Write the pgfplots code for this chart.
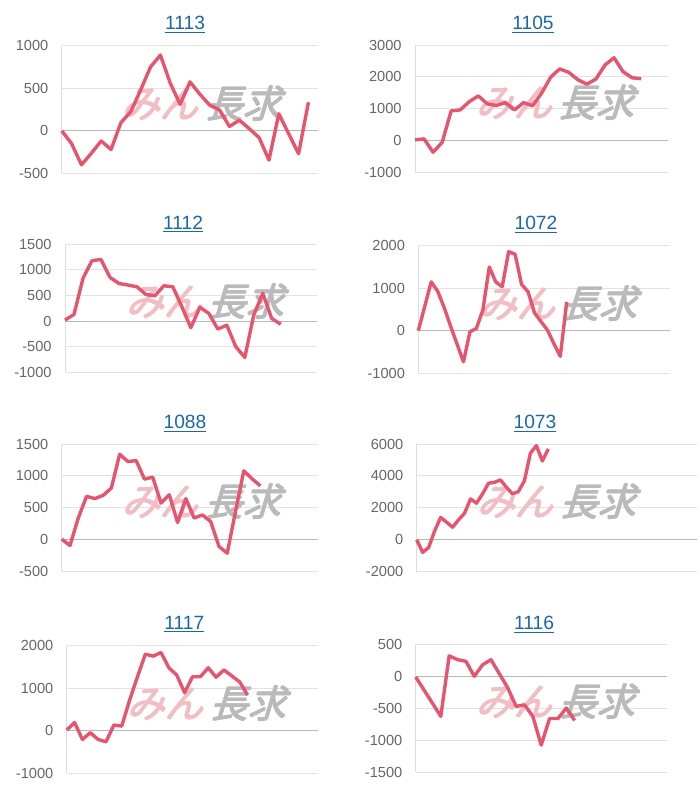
\documentclass[border=0pt]{standalone}
\usepackage{fontspec}
\setmainfont{Liberation Sans}
\newfontfamily\jp[FakeSlant=0.3]{Noto Sans CJK JP}
\usepackage{pgfplots}
\pgfplotsset{compat=1.18}

\definecolor{lineRed}{RGB}{230,84,110}
\definecolor{tickGray}{RGB}{102,102,102}
\definecolor{titleBlue}{RGB}{26,104,170}
\definecolor{wmPink}{RGB}{241,190,196}
\definecolor{wmGray}{RGB}{186,186,186}

\pgfplotsset{
  panel/.style={
    scale only axis, anchor=north west,
    xmin=0, enlargelimits=false,
    axis lines*=left,
    x axis line style={draw=none},
    y axis line style={draw=black!13},
    xtick=\empty,
    ymajorgrids, grid style={black!11, line width=0.5pt},
    major tick length=0pt,
    scaled y ticks=false,
    yticklabel style={font=\fontsize{7.3}{8}\selectfont, text=tickGray,
      anchor=east, inner sep=0pt, xshift=-6.5pt},
    /pgf/number format/assume math mode=true,
    /pgf/number format/1000 sep={},
    extra y ticks={0}, extra y tick labels={},
    extra y tick style={grid style={black!28, line width=0.6pt}},
    clip=false,
  },
  series/.style={lineRed, line width=1.7pt, line join=round, mark=none},
}
% watermark: a few shifted copies stand in for a heavy weight
\newcommand{\wmtext}{\jp\fontsize{19}{19}\selectfont\textcolor{wmPink}{みん}\,\textcolor{wmGray}{長求}}
\newcommand{\wm}{%
  \node[inner sep=0pt] at (rel axis cs:0,0.545) [xshift=69.6pt] {\wmtext};
  \node[inner sep=0pt] at (rel axis cs:0,0.545) [xshift=70.1pt] {\wmtext};
  \node[inner sep=0pt] at (rel axis cs:0,0.545) [xshift=69.6pt, yshift=0.45pt] {\wmtext};
  \node[inner sep=0pt] at (rel axis cs:0,0.545) [xshift=70.1pt, yshift=0.45pt] {\wmtext};}
\newcommand{\ttl}[3]{\node[anchor=base, text=titleBlue, font=\fontsize{9.6}{11}\selectfont]
  at (#1pt,#2pt) {\underline{#3}};}

\begin{document}
\begin{tikzpicture}
\path[use as bounding box] (0pt,0pt) rectangle (350pt,-400pt);

% row 1
\begin{axis}[panel, at={(30.85pt,-22.85pt)}, width=128.3pt, height=63.8pt,
  xmax=26, ymin=-500, ymax=1000, ytick={-500,0,500,1000}]
\wm
\addplot[series] coordinates {(0,0) (1,-150) (2,-400) (3,-265) (4,-120) (5,-220)
  (6,95) (7,225) (8,480) (9,750) (10,890) (11,560) (12,310) (13,575) (14,430)
  (15,300) (16,245) (17,50) (18,125) (19,25) (20,-80) (21,-345) (22,200)
  (23,-35) (24,-270) (25,335)};
\end{axis}

\begin{axis}[panel, at={(207.5pt,-22.5pt)}, width=126.65pt, height=63.65pt,
  xmax=28, ymin=-1000, ymax=3000, ytick={-1000,0,1000,2000,3000}]
\wm
\addplot[series] coordinates {(0,20) (1,50) (2,-370) (3,-60) (4,930) (5,960)
  (6,1220) (7,1400) (8,1150) (9,1100) (10,1190) (11,960) (12,1190) (13,1090)
  (14,1490) (15,1990) (16,2250) (17,2140) (18,1910) (19,1770) (20,1930)
  (21,2370) (22,2600) (23,2160) (24,1970) (25,1940)};
\end{axis}

% row 2
\begin{axis}[panel, at={(32.5pt,-122.15pt)}, width=125.85pt, height=64pt,
  xmax=28, ymin=-1000, ymax=1500, ytick={-1000,-500,0,500,1000,1500}]
\wm
\addplot[series] coordinates {(0,20) (1,130) (2,835) (3,1180) (4,1205) (5,855)
  (6,735) (7,705) (8,670) (9,520) (10,495) (11,690) (12,670) (13,280) (14,-130)
  (15,270) (16,150) (17,-155) (18,-80) (19,-500) (20,-710) (21,120) (22,540)
  (23,50) (24,-60)};
\end{axis}

\begin{axis}[panel, at={(209.15pt,-122.85pt)}, width=125.85pt, height=63.8pt,
  xmax=39, ymin=-1000, ymax=2000, ytick={-1000,0,1000,2000}]
\wm
\addplot[series] coordinates {(0,0) (1,575) (2,1150) (3,930) (4,550) (5,110)
  (6,-310) (7,-730) (8,-25) (9,55) (10,485) (11,1500) (12,1150) (13,1035)
  (14,1860) (15,1800) (16,1090) (17,920) (18,425) (19,220) (20,20) (21,-300)
  (22,-600) (23,680)};
\end{axis}

% row 3
\begin{axis}[panel, at={(30.85pt,-222pt)}, width=128.3pt, height=63.85pt,
  xmax=31, ymin=-500, ymax=1500, ytick={-500,0,500,1000,1500}]
\wm
\addplot[series] coordinates {(0,10) (1,-90) (2,340) (3,680) (4,645) (5,695)
  (6,810) (7,1340) (8,1225) (9,1240) (10,950) (11,980) (12,575) (13,705)
  (14,270) (15,645) (16,340) (17,390) (18,285) (19,-105) (20,-210) (21,445)
  (22,1080) (23,955) (24,845)};
\end{axis}

\begin{axis}[panel, at={(208.35pt,-222pt)}, width=140pt, height=63.85pt,
  xmax=46.8, ymin=-2000, ymax=6000, ytick={-2000,0,2000,4000,6000}]
\wm
\addplot[series] coordinates {(0,0) (1,-790) (2,-480) (3,560) (4,1400) (5,1100)
  (6,790) (7,1250) (8,1670) (9,2560) (10,2290) (11,2875) (12,3540) (13,3600)
  (14,3750) (15,3290) (16,2875) (17,3020) (18,3690) (19,5420) (20,5900)
  (21,4940) (22,5690)};
\end{axis}

% row 4
\begin{axis}[panel, at={(33.35pt,-322.85pt)}, width=125.8pt, height=63.8pt,
  xmax=32, ymin=-1000, ymax=2000, ytick={-1000,0,1000,2000}]
\wm
\addplot[series] coordinates {(0,15) (1,195) (2,-205) (3,-45) (4,-205) (5,-260)
  (6,135) (7,110) (8,720) (9,1270) (10,1800) (11,1755) (12,1840) (13,1480)
  (14,1310) (15,895) (16,1270) (17,1270) (18,1480) (19,1260) (20,1430)
  (21,1290) (22,1150) (23,840)};
\end{axis}

\begin{axis}[panel, at={(207.85pt,-322.15pt)}, width=125.5pt, height=64pt,
  xmax=30, ymin=-1500, ymax=500, ytick={-1500,-1000,-500,0,500}]
\wm
\addplot[series] coordinates {(0,-10) (1,-215) (2,-420) (3,-625) (4,320) (5,260)
  (6,235) (7,0) (8,180) (9,260) (10,40) (11,-180) (12,-470) (13,-445) (14,-625)
  (15,-1075) (16,-660) (17,-660) (18,-495) (19,-690)};
\end{axis}

% titles
\ttl{92.5}{-14.5}{1113}
\ttl{266.5}{-14.5}{1105}
\ttl{91.5}{-114.5}{1112}
\ttl{268}{-114.5}{1072}
\ttl{92.5}{-214.2}{1088}
\ttl{267.5}{-214.2}{1073}
\ttl{92.2}{-314.5}{1117}
\ttl{267}{-314.5}{1116}
\end{tikzpicture}
\end{document}
